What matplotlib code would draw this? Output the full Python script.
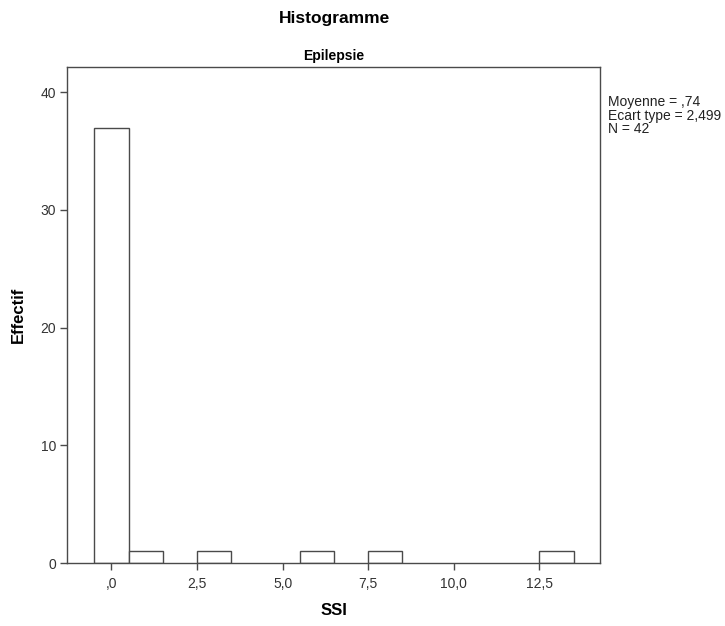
import matplotlib.pyplot as plt

plt.rcParams['font.family'] = ['Liberation Sans', 'DejaVu Sans']

# SSI histogram data (group: Epilepsie)
bin_centers = [0, 1, 3, 6, 8, 13]
counts = [37, 1, 1, 1, 1, 1]
x_ticks = [0, 2.5, 5, 7.5, 10, 12.5]
x_tick_labels = [',0', '2,5', '5,0', '7,5', '10,0', '12,5']
y_ticks = [0, 10, 20, 30, 40]
stats_lines = ['Moyenne = ,74', 'Ecart type = 2,499', 'N = 42']

fig = plt.figure(figsize=(7.25, 6.26), dpi=100)
ax = fig.add_axes([0.0924, 0.1006, 0.7352, 0.7924])

edge = '#4a4a4a'
ax.bar(bin_centers, counts, width=1.0, color='white', edgecolor=edge, linewidth=1.0, zorder=2)

ax.set_xlim(-1.3, 14.27)
ax.set_ylim(0, 42.15)
ax.set_xticks(x_ticks)
ax.set_xticklabels(x_tick_labels)
ax.set_yticks(y_ticks)

for s in ax.spines.values():
    s.set_color(edge)
    s.set_linewidth(1.0)
ax.tick_params(axis='both', direction='out', length=5, width=1.0, color=edge,
               labelsize=10, labelcolor='#333333', pad=3)
ax.tick_params(axis='x', pad=5)

ax.set_xlabel('SSI', fontsize=12, fontweight='bold', labelpad=9)
ax.set_ylabel('Effectif', fontsize=12, fontweight='bold', labelpad=10)

fig.text(0.462, 0.97, 'Histogramme', ha='center', va='center', fontsize=12.5, fontweight='bold')
fig.text(0.46, 0.91, 'Epilepsie', ha='center', va='center', fontsize=10, fontweight='bold')

fig.text(0.838, 0.848, '\n'.join(stats_lines), ha='left', va='top', fontsize=10,
         color='#222222', linespacing=0.95)

fig.savefig('out.png', dpi=100, facecolor='white')
